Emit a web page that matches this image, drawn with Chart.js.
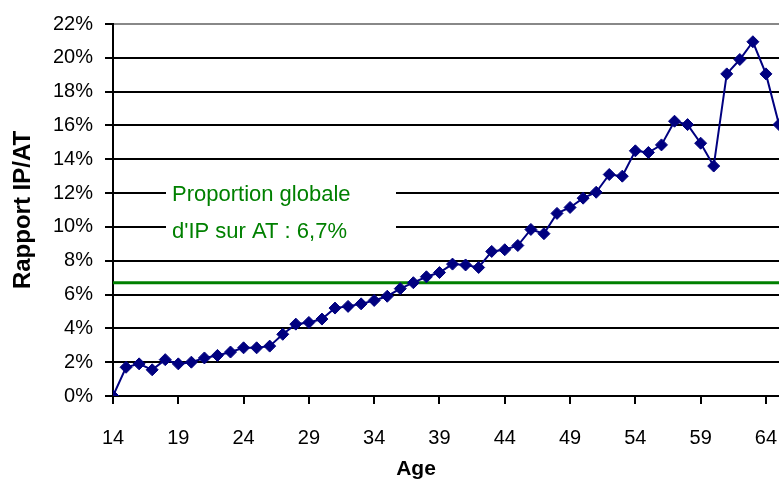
<!DOCTYPE html>
<html>
<head>
<meta charset="utf-8">
<script src="https://cdn.jsdelivr.net/npm/chart.js@4"></script>
<style>
  html, body { margin: 0; padding: 0; background: #fff; }
  #wrap { width: 779px; height: 483px; }
</style>
</head>
<body>
<div id="wrap"><canvas id="ratio"></canvas></div>
<script>
// ages 14..65 and IP/AT ratio (%)
const ages = [14, 15, 16, 17, 18, 19, 20, 21, 22, 23, 24, 25, 26, 27, 28, 29, 30, 31, 32, 33,
    34, 35, 36, 37, 38, 39, 40, 41, 42, 43, 44, 45, 46, 47, 48, 49, 50, 51, 52, 53,
    54, 55, 56, 57, 58, 59, 60, 61, 62, 63, 64, 65];
const ratio = [0, 1.7, 1.9, 1.55, 2.15, 1.9, 2.0, 2.25, 2.4, 2.6, 2.85, 2.85, 2.95, 3.65, 4.25, 4.35, 4.55, 5.2, 5.3, 5.45,
    5.65, 5.9, 6.35, 6.7, 7.05, 7.3, 7.8, 7.75, 7.6, 8.55, 8.65, 8.9, 9.85, 9.6, 10.8, 11.15, 11.7, 12.05, 13.1, 13.0,
    14.5, 14.4, 14.85, 16.25, 16.05, 14.95, 13.6, 19.05, 19.9, 20.95, 19.05, 16.05];
const globalRatio = 6.7;
const xTicks = [14, 19, 24, 29, 34, 39, 44, 49, 54, 59, 64];
const noteLines = ['Proportion globale', "d'IP sur AT : 6,7%"];

const FONT = "'Liberation Sans', Arial, sans-serif";

// boîte blanche + texte vert, titre "Age"
const notePlugin = {
    id: 'note',
    beforeDatasetsDraw(chart) {
        const ctx = chart.ctx;
        ctx.save();
        ctx.fillStyle = '#fff';
        ctx.fillRect(166, 170, 230, 75);
        ctx.fillStyle = '#008000';
        ctx.font = '22px ' + FONT;
        ctx.textBaseline = 'middle';
        ctx.textAlign = 'left';
        ctx.fillText(noteLines[0], 172, 195);
        ctx.fillText(noteLines[1], 172, 232);
        ctx.restore();
    },
    afterDraw(chart) {
        const ctx = chart.ctx;
        ctx.save();
        ctx.fillStyle = '#000';
        ctx.font = 'bold 21px ' + FONT;
        ctx.textBaseline = 'middle';
        ctx.textAlign = 'center';
        ctx.fillText('Age', 416, 469);
        ctx.restore();
    }
};

const ctx = document.getElementById('ratio').getContext('2d');

new Chart(ctx, {
    type: 'line',
    data: {
        datasets: [{
            label: 'Rapport IP/AT',
            data: ages.map((a, i) => ({ x: a, y: ratio[i] })),
            borderColor: '#000080',
            backgroundColor: '#000080',
            borderWidth: 2,
            pointStyle: 'rectRot',
            pointRadius: 6,
            pointBorderWidth: 1,
            tension: 0
        }, {
            label: 'Proportion globale',
            data: [{ x: ages[0], y: globalRatio }, { x: ages[ages.length - 1], y: globalRatio }],
            borderColor: '#008000',
            borderWidth: 3,
            pointRadius: 0
        }]
    },
    options: {
        responsive: true,
        maintainAspectRatio: false,
        animation: false,
        layout: { autoPadding: false, padding: { top: 18, right: 0, left: 0, bottom: 0 } },
        plugins: {
            legend: { display: false },
            tooltip: { enabled: false }
        },
        scales: {
            x: {
                type: 'linear',
                min: 14,
                max: 65,
                afterBuildTicks: axis => { axis.ticks = xTicks.map(v => ({ value: v })); },
                afterFit: axis => {
                    axis.height = 87;
                    axis.paddingLeft = 0;
                    axis.paddingRight = 0;
                },
                ticks: {
                    color: '#000',
                    padding: 22,
                    maxRotation: 0,
                    font: { family: FONT, size: 20 }
                },
                grid: {
                    drawOnChartArea: false,
                    tickLength: 8,
                    color: '#000',
                    lineWidth: 2
                },
                border: { color: '#000', width: 2 }
            },
            y: {
                min: 0,
                max: 22,
                afterFit: axis => { axis.width = 113; },
                ticks: {
                    stepSize: 2,
                    color: '#000',
                    padding: 12,
                    font: { family: FONT, size: 20 },
                    callback: v => v + '%'
                },
                grid: {
                    color: c => (c.tick && c.tick.value === 22 ? '#888' : '#000'),
                    tickColor: '#000',
                    lineWidth: 2,
                    tickLength: 8
                },
                border: { color: '#000', width: 2 },
                title: {
                    display: true,
                    text: 'Rapport IP/AT',
                    color: '#000',
                    padding: { top: 9, bottom: 0 },
                    font: { family: FONT, size: 24, weight: 'bold' }
                }
            }
        }
    },
    plugins: [notePlugin]
});
</script>
</body>
</html>
